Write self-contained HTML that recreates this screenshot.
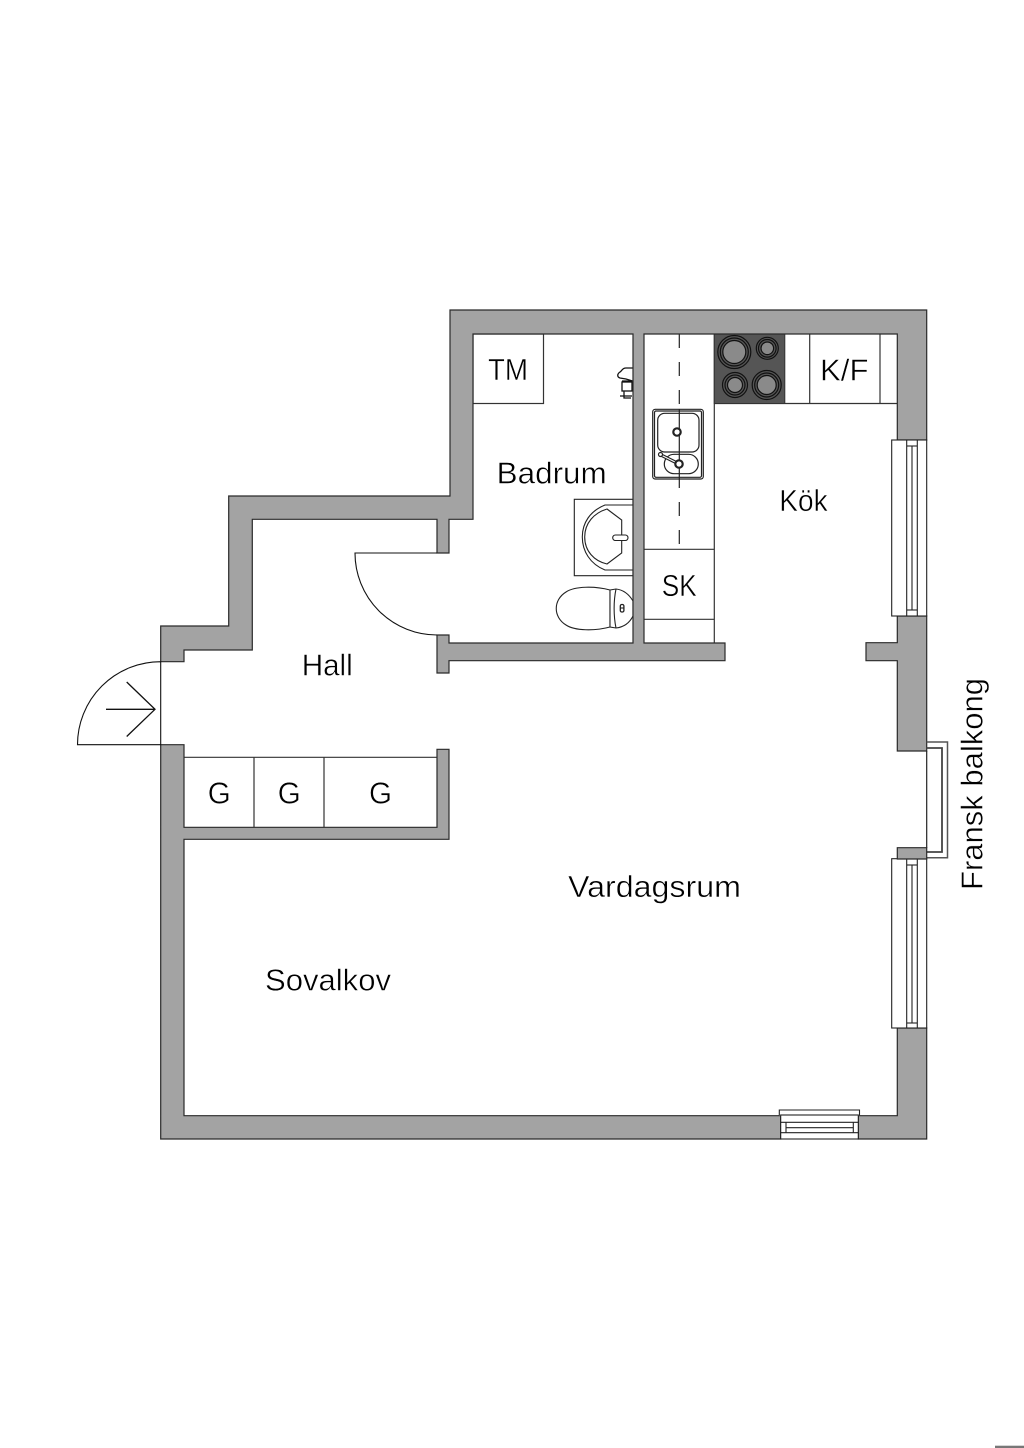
<!DOCTYPE html>
<html lang="sv">
<head>
<meta charset="utf-8">
<title>Planritning</title>
<style>
html,body{margin:0;padding:0;background:#fff}
svg{display:block}
text{font-family:"Liberation Sans",sans-serif;fill:#000;stroke:#fff;stroke-width:.45;font-size:30.5px}
</style>
</head>
<body>
<svg xmlns="http://www.w3.org/2000/svg" width="1024" height="1448" viewBox="0 0 1024 1448">
<rect width="1024" height="1448" fill="#fff"/>

<!-- fixtures / thin lines -->
<g fill="none" stroke="#333" stroke-width="1.2">
  <rect x="473" y="334" width="70.5" height="69.5" fill="#fff"/>
  <line x1="714.3" y1="334" x2="714.3" y2="643"/>
  <line x1="714.3" y1="403.5" x2="897.3" y2="403.5"/>
  <line x1="809.7" y1="334" x2="809.7" y2="403.5"/>
  <line x1="880" y1="334" x2="880" y2="403.5"/>
  <line x1="644" y1="549.3" x2="714.3" y2="549.3"/>
  <line x1="644" y1="619.3" x2="714.3" y2="619.3"/>
  <line x1="184" y1="757.3" x2="437" y2="757.3"/>
  <line x1="254" y1="757.3" x2="254" y2="827.3"/>
  <line x1="324" y1="757.3" x2="324" y2="827.3"/>
</g>
<line x1="679.3" y1="334" x2="679.3" y2="549.3" stroke="#222" stroke-width="1.2" stroke-dasharray="14 14"/>

<!-- hob -->
<rect x="714.3" y="334" width="70.5" height="69.5" fill="#555" stroke="#333"/>
<g fill="#8a8a8a" stroke="#111" stroke-width="1.2">
  <circle cx="734.3" cy="352" r="16.5" fill="#555"/><circle cx="734.3" cy="352" r="14" fill="#555"/><circle cx="734.3" cy="352" r="11.5"/>
  <circle cx="767.3" cy="348.3" r="11" fill="#555"/><circle cx="767.3" cy="348.3" r="8.8" fill="#555"/><circle cx="767.3" cy="348.3" r="6.3"/>
  <circle cx="735" cy="385" r="12.5" fill="#555"/><circle cx="735" cy="385" r="10" fill="#555"/><circle cx="735" cy="385" r="7.5"/>
  <circle cx="766.7" cy="385" r="14.5" fill="#555"/><circle cx="766.7" cy="385" r="12" fill="#555"/><circle cx="766.7" cy="385" r="9.5"/>
</g>

<!-- sink -->
<g fill="#fff" stroke="#222" stroke-width="1.2">
  <rect x="652.7" y="409.3" width="50.6" height="69.7" rx="2.5"/>
  <rect x="654.5" y="411" width="47" height="66.3" rx="1.5"/>
  <rect x="657.7" y="413.3" width="41.3" height="38.7" rx="7"/>
  <rect x="664.3" y="454.3" width="34" height="19.4" rx="9.7"/>
  <line x1="679.3" y1="409" x2="679.3" y2="479"/>
  <circle cx="677" cy="432" r="3.7" stroke-width="2.2"/>
  <line x1="661" y1="455" x2="679" y2="464" stroke-width="3.4"/>
  <line x1="661" y1="455" x2="679" y2="464" stroke="#fff" stroke-width="1"/>
  <circle cx="660.5" cy="454.5" r="2"/>
  <circle cx="679" cy="464" r="3.7" stroke-width="2.2"/>
</g>

<!-- wash basin -->
<g fill="#fff" stroke="#222" stroke-width="1.1">
  <rect x="574.3" y="499.3" width="58.7" height="76.4"/>
  <path d="M633 505H605C590 511 582.3 523 582.3 537C582.3 551 590 564 605 570H633"/>
  <path d="M607 509L621.7 520V553L607 564C594 561 584.7 551 584.7 537C584.7 523 594 513 607 509Z"/>
  <rect x="612.7" y="535" width="15.3" height="5.5" rx="2.7"/>
</g>

<!-- toilet -->
<g fill="#fff" stroke="#222" stroke-width="1.1">
  <path d="M610 590C595 586 575 586 566 592C553 600 553 617 566 625C575 631 595 631 610 627Z"/>
  <path d="M610 590L616 589C625 590 630 596 633 601V616C630 622 625 627 616 628L610 627Z"/>
  <path d="M616 589C613.5 601 613.5 616 616 628"/>
  <rect x="620.3" y="604.5" width="3.6" height="7.5" rx="1.5" stroke-width="1.3"/>
  <line x1="620.3" y1="608" x2="624" y2="608"/>
</g>

<!-- shower fitting -->
<g fill="#fff" stroke="#111" stroke-width="1.3">
  <path d="M632.5 368H626C622 368 622 371 620 372C617 374 617 377 620 378L626 379L632.5 381"/>
  <rect x="622" y="382" width="10" height="9"/>
  <path d="M624 391V398H631M620 396H632M622 381H632"/>
</g>

<!-- walls -->
<g fill="#a3a3a3" stroke="#2a2a2a" stroke-width="1.2" stroke-linejoin="miter">
  <path d="M160.7 626H228.7V496H450V310H926.7V440H897.3V334H644V643H725V660.7H449V673H437V635H449V643H633V334H473V519.3H449V553H437V519.3H252.3V650H184V661.7H160.7Z"/>
  <path d="M897.3 616H926.7V751H897.3V660.7H866V642.7H897.3Z"/>
  <path d="M160.7 744.7H184V827.3H437V749.3H449V839.3H184V1115.7H780.7V1139H160.7Z"/>
  <path d="M858.3 1115.7H897.3V1028H926.7V1139H858.3Z"/>
</g>

<!-- window kitchen -->
<g fill="#fff" stroke="#222" stroke-width="1.1">
  <rect x="891.7" y="440" width="35" height="176"/>
  <line x1="906.7" y1="440" x2="906.7" y2="616"/>
  <line x1="912" y1="446" x2="912" y2="610"/>
  <line x1="917.3" y1="440" x2="917.3" y2="616"/>
  <line x1="906.7" y1="446" x2="917.3" y2="446"/>
  <line x1="906.7" y1="610" x2="917.3" y2="610"/>
</g>

<!-- french balcony -->
<g fill="none" stroke="#555" stroke-width="1.5">
  <path d="M926.7 742H947.5V857.8H926.7"/>
</g>
<g fill="none" stroke="#444" stroke-width="1.8">
  <path d="M926.7 748H942V852H926.7"/>
</g>
<line x1="926.7" y1="751" x2="926.7" y2="848" stroke="#222" stroke-width="1.2"/>

<!-- window living -->
<g fill="#fff" stroke="#222" stroke-width="1.1">
  <rect x="891.7" y="858.7" width="35" height="169.3"/>
  <line x1="906.7" y1="858.7" x2="906.7" y2="1028"/>
  <line x1="912" y1="865" x2="912" y2="1023"/>
  <line x1="917.3" y1="858.7" x2="917.3" y2="1028"/>
  <line x1="906.7" y1="865" x2="917.3" y2="865"/>
  <line x1="906.7" y1="1023" x2="917.3" y2="1023"/>
</g>
<path d="M897.3 847.7H926.7V859H897.3Z" fill="#a3a3a3" stroke="#2a2a2a" stroke-width="1.2"/>

<!-- window bottom -->
<g fill="#fff" stroke="#222" stroke-width="1.1">
  <path d="M779.3 1115.7V1110H859.5V1115.7"/>
  <rect x="780.7" y="1115" width="77.6" height="24"/>
  <line x1="786" y1="1122.3" x2="786" y2="1132.7"/>
  <line x1="853.3" y1="1122.3" x2="853.3" y2="1132.7"/>
  <line x1="780.7" y1="1122.3" x2="858.3" y2="1122.3"/>
  <line x1="786" y1="1127.7" x2="853.3" y2="1127.7"/>
  <line x1="780.7" y1="1132.7" x2="858.3" y2="1132.7"/>
</g>

<!-- doors -->
<g fill="none" stroke="#111" stroke-width="1.1">
  <path d="M437 553H355A82 82 0 0 0 437 635"/>
  <path d="M160.7 661.7V744.7H77.5A83.2 83 0 0 1 160.7 661.7Z"/>
  <path d="M106 709.3H155M126.7 682L155 709.3L126.7 736.5" stroke-width="1.3"/>
</g>

<!-- labels -->
<text x="488" y="380" textLength="40" lengthAdjust="spacingAndGlyphs">TM</text>
<text x="496.7" y="483.3" textLength="110" lengthAdjust="spacingAndGlyphs">Badrum</text>
<text x="779.3" y="511" textLength="48.4" lengthAdjust="spacingAndGlyphs">Kök</text>
<text x="820" y="380.7" textLength="48.5" lengthAdjust="spacingAndGlyphs">K/F</text>
<text x="661.7" y="596" textLength="35" lengthAdjust="spacingAndGlyphs">SK</text>
<text x="301.7" y="675.3" textLength="51" lengthAdjust="spacingAndGlyphs">Hall</text>
<text x="207.7" y="803.3" textLength="23" lengthAdjust="spacingAndGlyphs">G</text>
<text x="277.7" y="803.3" textLength="23" lengthAdjust="spacingAndGlyphs">G</text>
<text x="369" y="803.3" textLength="23" lengthAdjust="spacingAndGlyphs">G</text>
<text x="568" y="897" textLength="173" lengthAdjust="spacingAndGlyphs">Vardagsrum</text>
<text x="265" y="990.5" textLength="126" lengthAdjust="spacingAndGlyphs">Sovalkov</text>
<text transform="translate(982.3 890) rotate(-90)" x="0" y="0" textLength="212" lengthAdjust="spacingAndGlyphs">Fransk balkong</text>

<rect x="995" y="1445.7" width="29" height="2.3" fill="#777"/>
</svg>
</body>
</html>
